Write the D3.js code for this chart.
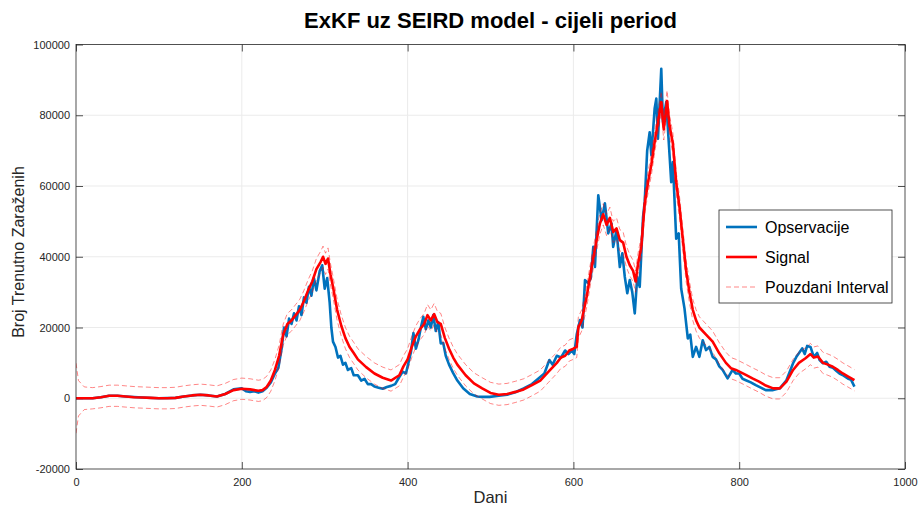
<!DOCTYPE html>
<html>
<head>
<meta charset="utf-8">
<script src="https://cdn.jsdelivr.net/npm/d3@7"></script>
<style>
  body { margin: 0; background: #fff; }
  svg { display: block; font-family: "Liberation Sans", Arial, Helvetica, sans-serif; }
</style>
</head>
<body>
<svg id="chart" width="918" height="509"></svg>
<script>
// [dan, broj] parovi ocitani sa slike
const observations = [
  [0,0],[20,0],[30,300],[40,700],[50,700],[60,500],[80,200],[100,0],[120,100],[130,500],
  [140,800],[150,1000],[160,800],[170,500],[180,1200],[190,2500],[200,2800],[205,2000],[210,1800],[215,2000],
  [220,1600],[225,2000],[230,3000],[235,4500],[240,7000],[244,8500],[248,14000],[251,20000],[254,17500],[257,22500],
  [260,21000],[263,24000],[266,22000],[269,26000],[272,23500],[275,28500],[278,27000],[281,31500],[284,29000],[287,34000],
  [290,30500],[294,36000],[297,37600],[300,31000],[303,34000],[306,27000],[308,20000],[310,16000],[313,14500],[316,11500],
  [319,12000],[322,9500],[325,10000],[328,8000],[332,8500],[335,6500],[340,6500],[344,5000],[348,5500],[352,4000],
  [356,4000],[360,3300],[365,3000],[370,2700],[375,3200],[380,3500],[385,4000],[390,6000],[394,7500],[398,7000],
  [401,10000],[404,13000],[407,18400],[410,14000],[413,16400],[416,20000],[419,23000],[422,19500],[425,22000],[428,20000],
  [431,23500],[434,19000],[437,21500],[440,15500],[443,15600],[446,12000],[450,9500],[455,7100],[460,5000],[467,2800],
  [475,1200],[484,500],[490,400],[499,400],[510,700],[520,1000],[530,1700],[540,2800],[550,4000],[560,6000],
  [565,7000],[571,10800],[575,9500],[580,12000],[585,11500],[590,13500],[594,12500],[598,13500],[601,12500],[604,18000],
  [608,22100],[611,20000],[614,33400],[618,32500],[621,34000],[624,42800],[626,37100],[630,57400],[634,50300],[638,55100],
  [642,46600],[646,49400],[648,42800],[652,47500],[656,37100],[659,41000],[662,34300],[665,29700],[668,33400],[671,30000],
  [674,24000],[677,34300],[680,31500],[684,51200],[686,55500],[689,70000],[692,75200],[694,68700],[698,81900],[700,84700],
  [702,73400],[706,93100],[708,78100],[712,83700],[716,68700],[718,61100],[720,66800],[724,45100],[727,46600],[730,31000],
  [734,25400],[738,16900],[741,18000],[744,11700],[748,14500],[752,11700],[756,16400],[760,13600],[764,14500],[768,11700],
  [772,11000],[776,9000],[780,8000],[786,5600],[792,8000],[796,7000],[800,7000],[804,5500],[808,5100],[814,4500],
  [820,3700],[826,3000],[832,2300],[840,2300],[849,2800],[857,5100],[861,7500],[865,9900],[869,11700],[872,12700],
  [876,14100],[879,12500],[882,14800],[886,14500],[890,11700],[894,12800],[897,10800],[901,9900],[905,10300],[909,8900],
  [913,8600],[917,7800],[921,7000],[926,6400],[931,5600],[935,5200],[939,3300]
];

const signal = [
  [0,0],[3,0],[10,0],[20,0],[30,300],[40,700],[50,700],[60,500],[70,300],[80,200],
  [90,100],[100,0],[110,0],[120,100],[130,500],[140,800],[150,1000],[160,800],[170,500],[180,1200],
  [190,2300],[200,2700],[210,2500],[220,2100],[225,2300],[230,3200],[235,5000],[240,8000],[245,12000],[250,18000],
  [255,21000],[260,22000],[265,23500],[270,25000],[275,27500],[280,30500],[285,33000],[290,36500],[295,38500],[298,40000],
  [301,38000],[304,39500],[307,35000],[310,31500],[315,25000],[320,20500],[325,17000],[330,14500],[335,12800],[340,11000],
  [350,8800],[360,7000],[370,5800],[380,5000],[390,6500],[395,9000],[400,11000],[405,14500],[410,17500],[415,19500],
  [420,21000],[424,23500],[428,22000],[432,23800],[436,21500],[440,21000],[445,17000],[450,14000],[455,11500],[460,9500],
  [470,6500],[480,4200],[490,2800],[500,1500],[510,1000],[520,1200],[530,1800],[540,2500],[550,3700],[560,5000],
  [570,7500],[580,10000],[585,11500],[590,12000],[595,13500],[600,14000],[604,14500],[606,20000],[610,22000],[616,28700],
  [622,37100],[628,44700],[632,49400],[636,52000],[640,49000],[644,51000],[648,47000],[652,48000],[656,44700],[660,44000],
  [664,40000],[668,37600],[672,36000],[675,33000],[678,38000],[682,43000],[686,55000],[690,61000],[694,66000],[698,72400],
  [702,78000],[706,83700],[709,76000],[713,84000],[716,77000],[720,72000],[724,61000],[728,54000],[732,45000],[736,36000],
  [740,30000],[744,25000],[748,22000],[752,20000],[760,18000],[768,16000],[776,12700],[784,10000],[790,8500],[796,8000],
  [808,6600],[816,5600],[824,4700],[832,3600],[841,2800],[849,2800],[857,4700],[865,8000],[872,10000],[880,11300],
  [886,12500],[890,11500],[895,11800],[901,10000],[907,9500],[913,8900],[919,8000],[925,7000],[931,6200],[939,5100]
];

const ciUpper = [
  [0,9900],[3,5000],[10,3200],[20,3000],[30,3300],[40,3700],[50,3700],[60,3500],[70,3300],[80,3200],
  [90,3100],[100,3000],[110,3000],[120,3100],[130,3500],[140,3800],[150,4000],[160,3800],[170,3500],[180,4200],
  [190,5300],[200,5700],[210,5500],[220,5100],[225,5300],[230,6200],[235,8000],[240,11000],[245,15000],[250,21000],
  [255,24000],[260,25000],[265,26500],[270,28000],[275,30500],[280,33500],[285,36000],[290,39500],[295,41500],[298,43000],
  [301,41000],[304,42500],[307,38000],[310,34500],[315,28000],[320,23500],[325,20000],[330,17500],[335,15800],[340,14000],
  [350,11800],[360,10000],[370,8800],[380,8000],[390,9500],[395,12000],[400,14000],[405,17500],[410,20500],[415,22500],
  [420,24000],[424,26500],[428,25000],[432,26800],[436,24500],[440,24000],[445,20000],[450,17000],[455,14500],[460,12500],
  [470,9500],[480,7200],[490,5800],[500,4500],[510,4000],[520,4200],[530,4800],[540,5500],[550,6700],[560,8000],
  [570,10500],[580,13000],[585,14500],[590,15000],[595,16500],[600,17000],[604,17500],[606,23000],[610,25000],[616,31700],
  [622,40100],[628,47700],[632,52400],[636,55000],[640,52000],[644,54000],[648,50000],[652,51000],[656,47700],[660,47000],
  [664,43000],[668,40600],[672,39000],[675,36000],[678,41000],[682,46000],[686,58000],[690,64000],[694,69000],[698,75400],
  [702,81000],[706,86700],[709,79000],[713,87000],[716,80000],[720,75000],[724,64000],[728,57000],[732,48000],[736,39000],
  [740,33000],[744,28000],[748,25000],[752,23000],[760,21000],[768,19000],[776,15700],[784,13000],[790,11500],[796,11000],
  [808,9600],[816,8600],[824,7700],[832,6600],[841,5800],[849,5800],[857,7700],[865,11000],[872,13000],[880,14300],
  [886,15500],[890,14500],[895,14800],[901,13000],[907,12500],[913,11900],[919,11000],[925,10000],[931,9200],[939,8100]
];

const ciLower = [
  [0,-9900],[3,-5000],[10,-3200],[20,-3000],[30,-2700],[40,-2300],[50,-2300],[60,-2500],[70,-2700],[80,-2800],
  [90,-2900],[100,-3000],[110,-3000],[120,-2900],[130,-2500],[140,-2200],[150,-2000],[160,-2200],[170,-2500],[180,-1800],
  [190,-700],[200,-300],[210,-500],[220,-900],[225,-700],[230,200],[235,2000],[240,5000],[245,9000],[250,15000],
  [255,18000],[260,19000],[265,20500],[270,22000],[275,24500],[280,27500],[285,30000],[290,33500],[295,35500],[298,37000],
  [301,35000],[304,36500],[307,32000],[310,28500],[315,22000],[320,17500],[325,14000],[330,11500],[335,9800],[340,8000],
  [350,5800],[360,4000],[370,2800],[380,2000],[390,3500],[395,6000],[400,8000],[405,11500],[410,14500],[415,16500],
  [420,18000],[424,20500],[428,19000],[432,20800],[436,18500],[440,18000],[445,14000],[450,11000],[455,8500],[460,6500],
  [470,3500],[480,1200],[490,-200],[500,-1500],[510,-2000],[520,-1800],[530,-1200],[540,-500],[550,700],[560,2000],
  [570,4500],[580,7000],[585,8500],[590,9000],[595,10500],[600,11000],[604,11500],[606,17000],[610,19000],[616,25700],
  [622,34100],[628,41700],[632,46400],[636,49000],[640,46000],[644,48000],[648,44000],[652,45000],[656,41700],[660,41000],
  [664,37000],[668,34600],[672,33000],[675,30000],[678,35000],[682,40000],[686,52000],[690,58000],[694,63000],[698,69400],
  [702,75000],[706,80700],[709,73000],[713,81000],[716,74000],[720,69000],[724,58000],[728,51000],[732,42000],[736,33000],
  [740,27000],[744,22000],[748,19000],[752,17000],[760,15000],[768,13000],[776,9700],[784,7000],[790,5500],[796,5000],
  [808,3600],[816,2600],[824,1700],[832,600],[841,-200],[849,-200],[857,1700],[865,5000],[872,7000],[880,8300],
  [886,9500],[890,8500],[895,8800],[901,7000],[907,6500],[913,5900],[919,5000],[925,4000],[931,3200],[939,2100]
];

const xTicks = [0, 200, 400, 600, 800, 1000];
const yTicks = [-20000, 0, 20000, 40000, 60000, 80000, 100000];
const legendLabels = ["Opservacije", "Signal", "Pouzdani Interval"];

const M = { left: 76, right: 905, top: 44.5, bottom: 469 };
const C = { axis: "#262626", grid: "#ebebeb", blue: "#0072BD", red: "#FF0000" };

const svg = d3.select("#chart");
const x = d3.scaleLinear().domain([0, 1000]).range([M.left, M.right]);
const y = d3.scaleLinear().domain([-20000, 100000]).range([M.bottom, M.top]);
const fmt = d => String(d);

// mreza
const grid = svg.append("g");
grid.selectAll(".gx").data(xTicks.slice(1, -1)).enter().append("line")
  .attr("x1", d => x(d)).attr("x2", d => x(d))
  .attr("y1", M.top).attr("y2", M.bottom)
  .attr("stroke", C.grid).attr("stroke-width", 1);
grid.selectAll(".gy").data(yTicks.slice(1, -1)).enter().append("line")
  .attr("x1", M.left).attr("x2", M.right)
  .attr("y1", d => y(d)).attr("y2", d => y(d))
  .attr("stroke", C.grid).attr("stroke-width", 1);

// osi
const styleAxis = g => {
  g.select(".domain").remove();
  g.selectAll("line").attr("stroke", C.axis).attr("stroke-width", 0.8);
  g.selectAll("text").attr("fill", C.axis).attr("font-size", "11px")
    .attr("font-family", '"Liberation Sans", Arial, sans-serif');
};
svg.append("g").attr("transform", `translate(0,${M.bottom})`)
  .call(d3.axisBottom(x).tickValues(xTicks).tickSize(-7).tickPadding(9).tickFormat(fmt))
  .call(styleAxis);
svg.append("g").attr("transform", `translate(0,${M.top})`)
  .call(d3.axisTop(x).tickValues(xTicks).tickSize(-7).tickFormat(""))
  .call(styleAxis);
svg.append("g").attr("transform", `translate(${M.left},0)`)
  .call(d3.axisLeft(y).tickValues(yTicks).tickSize(-7).tickPadding(6).tickFormat(fmt))
  .call(styleAxis);
svg.append("g").attr("transform", `translate(${M.right},0)`)
  .call(d3.axisRight(y).tickValues(yTicks).tickSize(-7).tickFormat(""))
  .call(styleAxis);

// linije
svg.append("defs").append("clipPath").attr("id", "clip")
  .append("rect").attr("x", M.left).attr("y", M.top)
  .attr("width", M.right - M.left).attr("height", M.bottom - M.top);

const line = d3.line().x(d => x(d[0])).y(d => y(d[1]));
const plot = svg.append("g").attr("clip-path", "url(#clip)");

plot.append("path").datum(observations)
  .attr("fill", "none").attr("stroke", C.blue).attr("stroke-width", 2.6)
  .attr("stroke-linejoin", "round").attr("d", line);
plot.append("path").datum(signal)
  .attr("fill", "none").attr("stroke", C.red).attr("stroke-width", 2.6)
  .attr("stroke-linejoin", "round").attr("d", line);
[ciUpper, ciLower].forEach(s => {
  plot.append("path").datum(s)
    .attr("fill", "none").attr("stroke", C.red).attr("stroke-opacity", 0.6)
    .attr("stroke-width", 0.8).attr("stroke-dasharray", "5,3").attr("d", line);
});

// okvir
svg.append("rect")
  .attr("x", M.left).attr("y", M.top)
  .attr("width", M.right - M.left).attr("height", M.bottom - M.top)
  .attr("fill", "none").attr("stroke", C.axis).attr("stroke-width", 0.8);

// naslovi
svg.append("text")
  .attr("x", (M.left + M.right) / 2).attr("y", 28)
  .attr("text-anchor", "middle").attr("font-size", "22px").attr("font-weight", "bold")
  .attr("fill", "#000")
  .text("ExKF uz SEIRD model - cijeli period");
svg.append("text")
  .attr("x", (M.left + M.right) / 2).attr("y", 503)
  .attr("text-anchor", "middle").attr("font-size", "16.5px").attr("fill", C.axis)
  .text("Dani");
svg.append("text")
  .attr("transform", "translate(24,252) rotate(-90)")
  .attr("text-anchor", "middle").attr("font-size", "16px").attr("fill", C.axis)
  .text("Broj Trenutno Zaraženih");

// legenda
const lg = svg.append("g").attr("transform", "translate(719,210)");
lg.append("rect").attr("width", 173).attr("height", 93)
  .attr("fill", "#fff").attr("stroke", C.axis).attr("stroke-width", 0.8);
const styles = [
  { stroke: C.blue, w: 2.6, dash: null, op: 1 },
  { stroke: C.red, w: 2.6, dash: null, op: 1 },
  { stroke: C.red, w: 0.8, dash: "5,3", op: 0.6 }
];
legendLabels.forEach((lab, i) => {
  const cy = 17 + i * 30;
  lg.append("line").attr("x1", 7).attr("x2", 38).attr("y1", cy).attr("y2", cy)
    .attr("stroke", styles[i].stroke).attr("stroke-width", styles[i].w)
    .attr("stroke-opacity", styles[i].op)
    .attr("stroke-dasharray", styles[i].dash);
  lg.append("text").attr("x", 46).attr("y", cy).attr("dy", "0.35em")
    .attr("font-size", "16px").attr("fill", "#000").text(lab);
});
</script>
</body>
</html>
